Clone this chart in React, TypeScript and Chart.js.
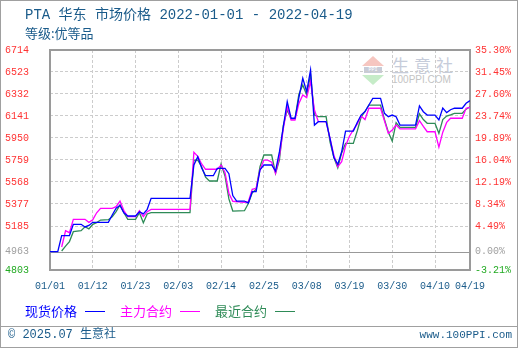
import React, { useEffect, useRef } from "react";
import { Chart, registerables } from "chart.js";

Chart.register(...registerables);

// X axis: calendar day index counted from 2022-01-01
const xTickDays = [0, 11, 22, 33, 44, 55, 66, 77, 88, 99, 108];
const xTickLabels = ["01/01", "01/12", "01/23", "02/03", "02/14", "02/25", "03/08", "03/19", "03/30", "04/10", "04/19"];

// Y axis ticks (price) and right axis labels (change vs. base)
const yTicks = [6714, 6523, 6332, 6141, 5950, 5759, 5568, 5377, 5185, 4963, 4803];
const yRightLabels = ["35.30%", "31.45%", "27.60%", "23.74%", "19.89%", "16.04%", "12.19%", "8.34%", "4.49%", "0.00%", "-3.21%"];
const baseValue = 4963;
const yMin = 4803;
const yMax = 6714;

// 现货价格 (spot)
const spotDays = [0, 2, 3, 5, 6, 8, 9, 10, 11, 15, 16, 17, 18, 19, 20, 22, 23, 24, 25, 26, 36, 37, 38, 39, 40, 42, 43, 45, 46, 47, 48, 50, 51, 52, 53, 54, 55, 57, 58, 59, 60, 61, 62, 63, 64, 65, 66, 67, 68, 69, 71, 72, 73, 74, 75, 76, 78, 79, 80, 81, 82, 83, 85, 86, 87, 88, 89, 90, 94, 95, 96, 97, 99, 100, 101, 102, 103, 104, 106, 107, 108];
const spotValues = [4963, 4963, 5101, 5101, 5200, 5200, 5177, 5190, 5217, 5217, 5281, 5340, 5363, 5300, 5272, 5272, 5309, 5290, 5330, 5426, 5426, 5715, 5787, 5689, 5622, 5622, 5686, 5686, 5640, 5450, 5402, 5402, 5385, 5483, 5483, 5672, 5715, 5715, 5663, 5831, 6048, 6265, 6121, 6121, 6300, 6468, 6352, 6540, 6062, 6091, 6091, 5947, 5780, 5720, 5830, 6010, 6010, 6085, 6149, 6180, 6236, 6294, 6294, 6164, 6135, 6149, 6135, 6062, 6062, 6228, 6178, 6149, 6149, 6106, 6210, 6170, 6195, 6208, 6208, 6251, 6274];

// 主力合约 (main contract)
const mainDays = [3, 4, 5, 6, 9, 10, 11, 12, 13, 16, 17, 18, 19, 20, 22, 23, 24, 25, 26, 36, 37, 38, 39, 40, 43, 44, 45, 46, 47, 50, 51, 52, 53, 54, 55, 56, 57, 58, 59, 60, 61, 62, 63, 64, 65, 66, 67, 68, 69, 71, 72, 73, 74, 75, 76, 77, 78, 79, 80, 81, 82, 85, 86, 87, 88, 89, 90, 94, 95, 96, 97, 99, 100, 101, 102, 103, 106, 107, 108];
const mainValues = [5003, 5144, 5127, 5243, 5243, 5217, 5240, 5300, 5339, 5339, 5353, 5402, 5320, 5266, 5266, 5318, 5266, 5310, 5330, 5330, 5826, 5790, 5724, 5678, 5678, 5715, 5650, 5470, 5400, 5391, 5396, 5504, 5513, 5672, 5758, 5758, 5740, 5643, 5793, 6030, 6221, 6106, 6106, 6250, 6323, 6300, 6439, 6193, 6091, 6091, 5947, 5800, 5700, 5744, 5880, 5965, 6020, 6070, 6140, 6110, 6208, 6208, 6100, 5990, 6019, 6062, 6028, 6028, 6100, 6050, 6004, 6004, 5870, 6000, 6085, 6121, 6121, 6208, 6216];

// 最近合约 (nearest contract)
const nearDays = [3, 4, 5, 6, 8, 9, 10, 11, 12, 13, 15, 16, 17, 18, 19, 20, 22, 23, 24, 25, 26, 36, 37, 38, 39, 40, 41, 43, 44, 45, 46, 47, 50, 51, 52, 53, 54, 55, 57, 58, 59, 60, 61, 62, 63, 64, 65, 66, 67, 68, 69, 71, 72, 73, 74, 75, 76, 78, 79, 80, 81, 82, 85, 86, 87, 88, 89, 90, 94, 95, 96, 97, 99, 100, 101, 102, 103, 104, 106, 107, 108];
const nearValues = [4968, 5010, 5050, 5136, 5144, 5179, 5160, 5200, 5215, 5237, 5240, 5266, 5310, 5368, 5300, 5243, 5243, 5301, 5214, 5290, 5301, 5301, 5758, 5758, 5700, 5610, 5576, 5576, 5724, 5620, 5420, 5315, 5318, 5380, 5474, 5504, 5700, 5802, 5802, 5643, 5760, 6060, 6193, 6115, 6115, 6330, 6410, 6323, 6497, 6149, 6135, 6135, 5917, 5780, 5690, 5820, 5903, 5903, 6010, 6130, 6180, 6236, 6236, 6110, 6000, 5923, 6082, 6042, 6042, 6160, 6110, 6077, 6077, 5990, 6110, 6140, 6150, 6164, 6164, 6200, 6221];

const seriesNames = ["现货价格", "主力合约", "最近合约"];
const seriesColors = ["#0000ff", "#ff00ff", "#2e8b57"];

const titleText = "PTA 华东 市场价格 2022-01-01 - 2022-04-19";
const subTitleText = "等级:优等品";
const footerLeft = "© 2025.07 生意社";
const footerRight = "www.100PPI.com";

const MONO = "'Liberation Mono', 'DejaVu Sans Mono', 'Noto Sans CJK SC', monospace";
const CJK = "'Noto Sans CJK SC', 'Liberation Mono', sans-serif";
const TEXT_BLUE = "#1a5b8a";

const toPoints = (days: number[], vals: number[]) => days.map((d, i) => ({ x: d, y: vals[i] }));

const framePlugin = {
  id: "frame",
  beforeDatasetsDraw(chart: any) {
    const { ctx, chartArea } = chart;
    const y = chart.scales.y.getPixelForValue(baseValue);
    ctx.save();
    ctx.strokeStyle = "#999999";
    ctx.lineWidth = 1;
    ctx.setLineDash([]);
    ctx.beginPath();
    ctx.moveTo(chartArea.left, Math.round(y) + 0.5);
    ctx.lineTo(chartArea.right, Math.round(y) + 0.5);
    ctx.stroke();
    ctx.strokeStyle = "#9a9a9a";
    ctx.lineWidth = 2;
    ctx.strokeRect(chartArea.left, chartArea.top, chartArea.right - chartArea.left, chartArea.bottom - chartArea.top);
    ctx.restore();
  },
};

const tickColor = (v: number) => (v === baseValue ? "#a0a0a0" : v === yMin ? "#22aa22" : "#ff3333");

export default function App() {
  const canvasRef = useRef<HTMLCanvasElement | null>(null);

  useEffect(() => {
    if (!canvasRef.current) return;
    const sortedY = [...yTicks].sort((a, b) => a - b);
    const chart = new Chart(canvasRef.current, {
      type: "line",
      data: {
        datasets: [
          { label: seriesNames[0], data: toPoints(spotDays, spotValues), borderColor: seriesColors[0], borderWidth: 1.3, pointRadius: 0, tension: 0, yAxisID: "y" },
          { label: seriesNames[1], data: toPoints(mainDays, mainValues), borderColor: seriesColors[1], borderWidth: 1.3, pointRadius: 0, tension: 0, yAxisID: "y" },
          { label: seriesNames[2], data: toPoints(nearDays, nearValues), borderColor: seriesColors[2], borderWidth: 1.3, pointRadius: 0, tension: 0, yAxisID: "y" },
        ],
      },
      options: {
        animation: false,
        responsive: false,
        devicePixelRatio: 1,
        layout: { padding: { left: 5, right: 0, top: 50, bottom: 0 } },
        plugins: { legend: { display: false }, tooltip: { enabled: false } },
        scales: {
          x: {
            type: "linear",
            min: 0,
            max: 108,
            afterBuildTicks: (s: any) => {
              s.ticks = xTickDays.map((v) => ({ value: v }));
            },
            afterFit: (s: any) => {
              s.height = 80;
            },
            ticks: {
              autoSkip: false,
              maxRotation: 0,
              minRotation: 0,
              padding: 10,
              color: TEXT_BLUE,
              font: { family: MONO, size: 10 },
              callback: (v: any) => xTickLabels[xTickDays.indexOf(Number(v))] ?? "",
            },
            grid: { color: "#cccccc", lineWidth: 1, drawTicks: false },
            border: { display: false, dash: [3, 2] },
          },
          y: {
            type: "linear",
            position: "left",
            min: yMin,
            max: yMax,
            afterBuildTicks: (s: any) => {
              s.ticks = sortedY.map((v) => ({ value: v }));
            },
            afterFit: (s: any) => {
              s.width = 45;
            },
            ticks: {
              autoSkip: false,
              crossAlign: "far",
              padding: 0,
              color: (c: any) => tickColor(c.tick.value),
              font: { family: MONO, size: 10 },
              callback: (v: any) => String(v),
            },
            grid: { color: (c: any) => (c.tick && c.tick.value === baseValue ? "rgba(0,0,0,0)" : "#cccccc"), lineWidth: 1, drawTicks: false },
            border: { display: false, dash: [3, 2] },
          },
          y2: {
            type: "linear",
            position: "right",
            min: yMin,
            max: yMax,
            afterBuildTicks: (s: any) => {
              s.ticks = sortedY.map((v) => ({ value: v }));
            },
            afterFit: (s: any) => {
              s.width = 50;
            },
            ticks: {
              autoSkip: false,
              padding: 5,
              color: (c: any) => tickColor(c.tick.value),
              font: { family: MONO, size: 10 },
              callback: (v: any) => yRightLabels[yTicks.indexOf(Number(v))] ?? "",
            },
            grid: { drawOnChartArea: false, drawTicks: false },
            border: { display: false },
          },
        },
      },
      plugins: [framePlugin],
    } as any);
    return () => chart.destroy();
  }, []);

  const legendItems = [
    { text: seriesNames[0], color: seriesColors[0], tx: 25, lx: 85 },
    { text: seriesNames[1], color: seriesColors[1], tx: 120, lx: 180 },
    { text: seriesNames[2], color: seriesColors[2], tx: 215, lx: 275 },
  ];

  return (
    <div style={{ position: "fixed", left: 0, top: 0, width: 520, height: 350, background: "#ffffff", overflow: "hidden" }}>
      {/* watermark */}
      <div style={{ position: "absolute", left: 362, top: 56, width: 0, height: 0, borderLeft: "11px solid transparent", borderRight: "11px solid transparent", borderBottom: "10px solid #f6c6c0" }} />
      <div style={{ position: "absolute", left: 364, top: 67, width: 18, height: 6, background: "#c8ccd8", color: "#ffffff", fontSize: 5, lineHeight: "6px", textAlign: "center", fontFamily: MONO }}>PPI</div>
      <div style={{ position: "absolute", left: 362, top: 75, width: 0, height: 0, borderLeft: "11px solid transparent", borderRight: "11px solid transparent", borderTop: "10px solid #c6ecc8" }} />
      <div style={{ position: "absolute", left: 392, top: 55, fontFamily: CJK, fontSize: 17, lineHeight: "20px", color: "#c6ccda", letterSpacing: 5, whiteSpace: "nowrap" }}>生意社</div>
      <div style={{ position: "absolute", left: 392, top: 74, fontFamily: "'Liberation Sans', sans-serif", fontSize: 10, lineHeight: "12px", color: "#c4c4c4", whiteSpace: "nowrap" }}>100PPI.COM</div>

      <canvas ref={canvasRef} width={520} height={350} style={{ position: "absolute", left: 0, top: 0, width: 520, height: 350 }} />

      {/* outer frame */}
      <div style={{ position: "absolute", left: 0, top: 0, width: 516, height: 346, border: "1px solid #a0a0a0", pointerEvents: "none" }} />

      {/* titles */}
      <div style={{ position: "absolute", left: 25, top: 7, fontFamily: MONO, fontSize: 14, lineHeight: "16px", color: TEXT_BLUE, whiteSpace: "nowrap" }}>{titleText}</div>
      <div style={{ position: "absolute", left: 25, top: 25, fontFamily: CJK, fontSize: 13, lineHeight: "16px", color: TEXT_BLUE, whiteSpace: "nowrap" }}>{subTitleText}</div>

      {/* legend */}
      {legendItems.map((it) => (
        <React.Fragment key={it.text}>
          <div style={{ position: "absolute", left: it.tx, top: 303, fontFamily: CJK, fontSize: 13, lineHeight: "16px", color: it.color, whiteSpace: "nowrap" }}>{it.text}</div>
          <div style={{ position: "absolute", left: it.lx, top: 311, width: 20, height: 1, background: it.color }} />
        </React.Fragment>
      ))}

      {/* footer */}
      <div style={{ position: "absolute", left: 0, top: 326, width: 518, height: 1, background: "#a0a0a0" }} />
      <div style={{ position: "absolute", left: 8, top: 328, fontFamily: MONO, fontSize: 12, lineHeight: "14px", color: TEXT_BLUE, whiteSpace: "nowrap" }}>{footerLeft}</div>
      <div style={{ position: "absolute", right: 8, top: 328, fontFamily: MONO, fontSize: 11, lineHeight: "14px", color: TEXT_BLUE, whiteSpace: "nowrap" }}>{footerRight}</div>
    </div>
  );
}
